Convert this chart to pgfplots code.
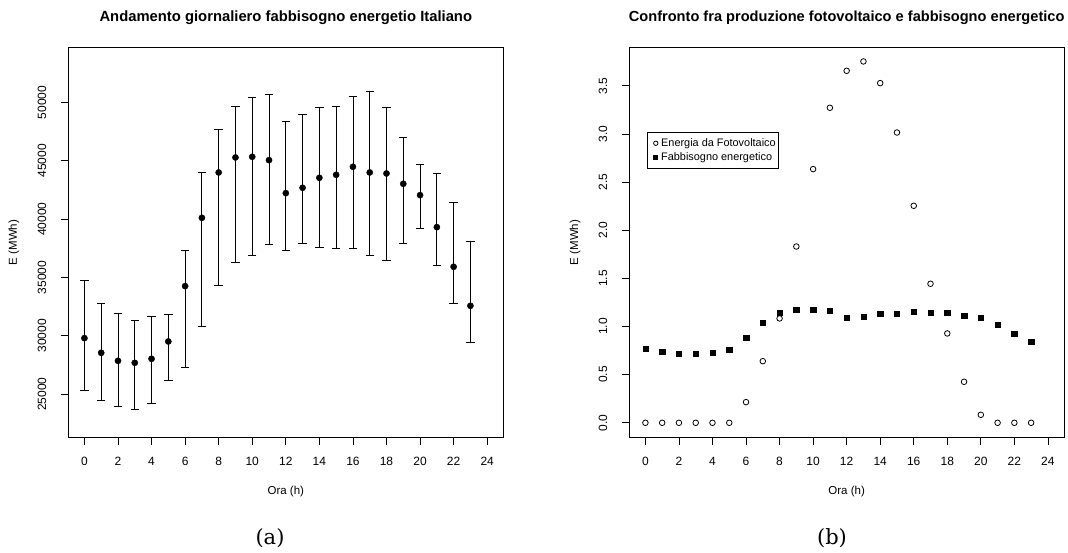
\documentclass[border=0pt]{standalone}
\usepackage{fontspec}
\newfontfamily\hv{Liberation Sans}
\newfontfamily\dvs{DejaVu Serif}
\usepackage{pgfplots}
\usepackage{pgfplotstable}
\pgfplotsset{compat=1.18}

\pgfplotstableread{
x y ep em
0 29800 4914 4457
1 28543 4228 4057
2 27857 4057 3943
3 27686 3657 3972
4 28029 3600 3858
5 29514 2343 3314
6 34257 3029 6971
7 40114 3915 9285
8 44000 3657 9714
9 45286 4371 9000
10 45343 5086 8429
11 45057 5657 7228
12 42229 6171 4915
13 42686 6314 4772
14 43543 6057 6000
15 43800 5886 6314
16 44486 6000 7000
17 44000 6943 7114
18 43914 5686 7428
19 43029 3971 5115
20 42057 2657 2828
21 39314 4600 3314
22 35914 5543 3114
23 32571 5486 3114
}\demand

\pgfplotstableread{
x pv dem
0 0 0.769
1 0 0.737
2 0 0.717
3 0 0.717
4 0 0.727
5 0 0.758
6 0.215 0.886
7 0.640 1.039
8 1.084 1.142
9 1.831 1.177
10 2.635 1.177
11 3.272 1.167
12 3.656 1.094
13 3.753 1.104
14 3.528 1.132
15 3.015 1.132
16 2.254 1.156
17 1.444 1.146
18 0.928 1.146
19 0.426 1.115
20 0.083 1.094
21 0 1.021
22 0 0.928
23 0 0.845
}\pvtab

\pgfplotsset{
  rstyle/.style={
    scale only axis,
    height=390pt,
    xmin=-0.96, xmax=24.96,
    xtick={0,2,...,24},
    tick align=outside,
    xtick pos=bottom, ytick pos=left,
    major tick length=7.5pt,
    tick style={black, line width=0.8pt},
    axis line style={line width=0.8pt},
    scaled y ticks=false,
    /pgf/number format/assume math mode=true,
    /pgf/number format/1000 sep={},
    ticklabel style={font=\hv\fontsize{12}{14}\selectfont},
    xticklabel shift=8.5pt,
    yticklabel shift=11pt,
    yticklabel style={rotate=90, anchor=south},
    title style={font=\hv\bfseries\fontsize{14.8}{17}\selectfont, at={(axis description cs:0.5,1)}, anchor=center, yshift=23.5pt},
    xlabel style={font=\hv\fontsize{11.5}{13}\selectfont, at={(axis description cs:0.5,0)}, anchor=center, yshift=-54pt},
    ylabel style={font=\hv\fontsize{11.5}{13}\selectfont, at={(axis description cs:-0.1248,0.5)}, anchor=center, rotate=0},
    xlabel={Ora (h)},
    ylabel={E (MWh)},
  }
}

\begin{document}
\begin{tikzpicture}[x=1pt,y=1pt]
\path (0,0) rectangle (1068,552);

\begin{axis}[rstyle,
  at={(68.3pt,114.5pt)}, anchor=south west,
  width=435pt,
  ymin=21283, ymax=54711,
  ytick={25000,30000,...,50000},
  title={Andamento giornaliero fabbisogno energetio Italiano},
]
\addplot[only marks, mark=*, mark size=3.1pt, black,
  error bars/.cd, y dir=both, y explicit,
  error bar style={line width=0.8pt, black},
  error mark options={rotate=90, mark size=4.2pt, line width=0.8pt, black}]
  table[x=x, y=y, y error plus=ep, y error minus=em] {\demand};
\end{axis}

\begin{axis}[rstyle,
  at={(629.3pt,114.5pt)}, anchor=south west,
  width=434.7pt,
  ymin=-0.1527, ymax=3.898,
  ytick={0,0.5,...,3.5},
  yticklabel={\pgfmathprintnumber[fixed,fixed zerofill,precision=1]{\tick}},
  title={Confronto fra produzione fotovoltaico e fabbisogno energetico},
  title style={font=\hv\bfseries\fontsize{14.6}{17}\selectfont},
  legend style={at={(rel axis cs:0.0407,0.783)}, anchor=north west, draw=black, line width=0.8pt,
    font=\hv\fontsize{10.9}{13}\selectfont, inner xsep=2pt, inner ysep=3.5pt, row sep=0pt,
    nodes={inner sep=1pt, text height=9pt, text depth=3.5pt}},
  legend cell align=left,
]
\addplot[only marks, mark=o, mark size=2.8pt, black, mark options={line width=0.8pt},
  legend image code/.code={\path (-6pt,0) (4pt,0); \draw[black, line width=0.8pt] (0pt,0pt) circle (2.2pt);}]
  table[x=x, y=pv] {\pvtab};
\addlegendentry{Energia da Fotovoltaico}
\addplot[only marks, mark=square*, mark size=2.7pt, black,
  legend image code/.code={\path (-6pt,0) (4pt,0); \fill[black] (-2.1pt,-2.1pt) rectangle (2.1pt,2.1pt);}]
  table[x=x, y=dem] {\pvtab};
\addlegendentry{Fabbisogno energetico}
\end{axis}

\node[font=\dvs\fontsize{21}{24}\selectfont] at (270,14) {(a)};
\node[font=\dvs\fontsize{21}{24}\selectfont] at (832,14) {(b)};
\end{tikzpicture}
\end{document}
